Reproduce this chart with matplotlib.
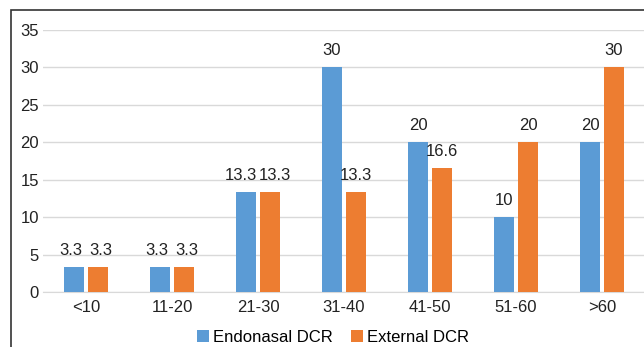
import numpy as np
import matplotlib.pyplot as plt
from matplotlib.patches import Rectangle

plt.rcParams['font.family'] = ['Liberation Sans', 'DejaVu Sans']

age_groups = ['<10', '11-20', '21-30', '31-40', '41-50', '51-60', '>60']
endonasal = [3.3, 3.3, 13.3, 30, 20, 10, 20]
external = [3.3, 3.3, 13.3, 13.3, 16.6, 20, 30]

blue = '#5B9BD5'
orange = '#ED7D31'

fig = plt.figure(figsize=(6.44, 3.47), dpi=100)
ax = fig.add_axes([43 / 644, 55 / 347, 602 / 644, 262 / 347])

x = np.arange(len(age_groups))
w = 0.235
off = 0.14
b1 = ax.bar(x - off, endonasal, w, color=blue, label='Endonasal DCR', zorder=3)
b2 = ax.bar(x + off, external, w, color=orange, label='External DCR', zorder=3)

# labels above bars; push apart when the pair sits at the same height
for i in range(len(age_groups)):
    same = abs(endonasal[i] - external[i]) < 2
    for bar, v, sgn in ((b1[i], endonasal[i], -1), (b2[i], external[i], 1)):
        txt = f'{v:g}'
        dx = sgn * (1.5 * len(txt) - 2.5) if same else 0
        ax.annotate(txt, (bar.get_x() + bar.get_width() / 2, v),
                    xytext=(dx, 6.5), textcoords='offset points',
                    ha='center', va='bottom', fontsize=12, color='#222222')

ax.set_xlim(-0.5, len(age_groups) - 0.5)
ax.set_ylim(0, 35)
ax.set_yticks(np.arange(0, 36, 5))
ax.set_xticks(x)
ax.set_xticklabels(age_groups)
ax.tick_params(length=0, labelsize=12, colors='#222222')
ax.tick_params(axis='x', pad=6)
ax.tick_params(axis='y', pad=3)
ax.grid(axis='y', color='#d9d9d9', linewidth=1, zorder=0)
for s in ('top', 'right', 'left'):
    ax.spines[s].set_visible(False)
ax.spines['bottom'].set_color('#d9d9d9')

fig.legend(handles=[b1, b2], loc='center', bbox_to_anchor=(333 / 644, 1 - 337 / 347),
           ncol=2, frameon=False, fontsize=12, handlelength=0.7, handleheight=0.7,
           handletextpad=0.25, columnspacing=1.1, borderpad=0)

fig.patches.append(Rectangle((11 / 644, -0.1), 1.2, (347 - 10) / 347 + 0.1,
                             transform=fig.transFigure, fill=False,
                             edgecolor='#333333', linewidth=1.2))

fig.savefig('out.png', dpi=100)
